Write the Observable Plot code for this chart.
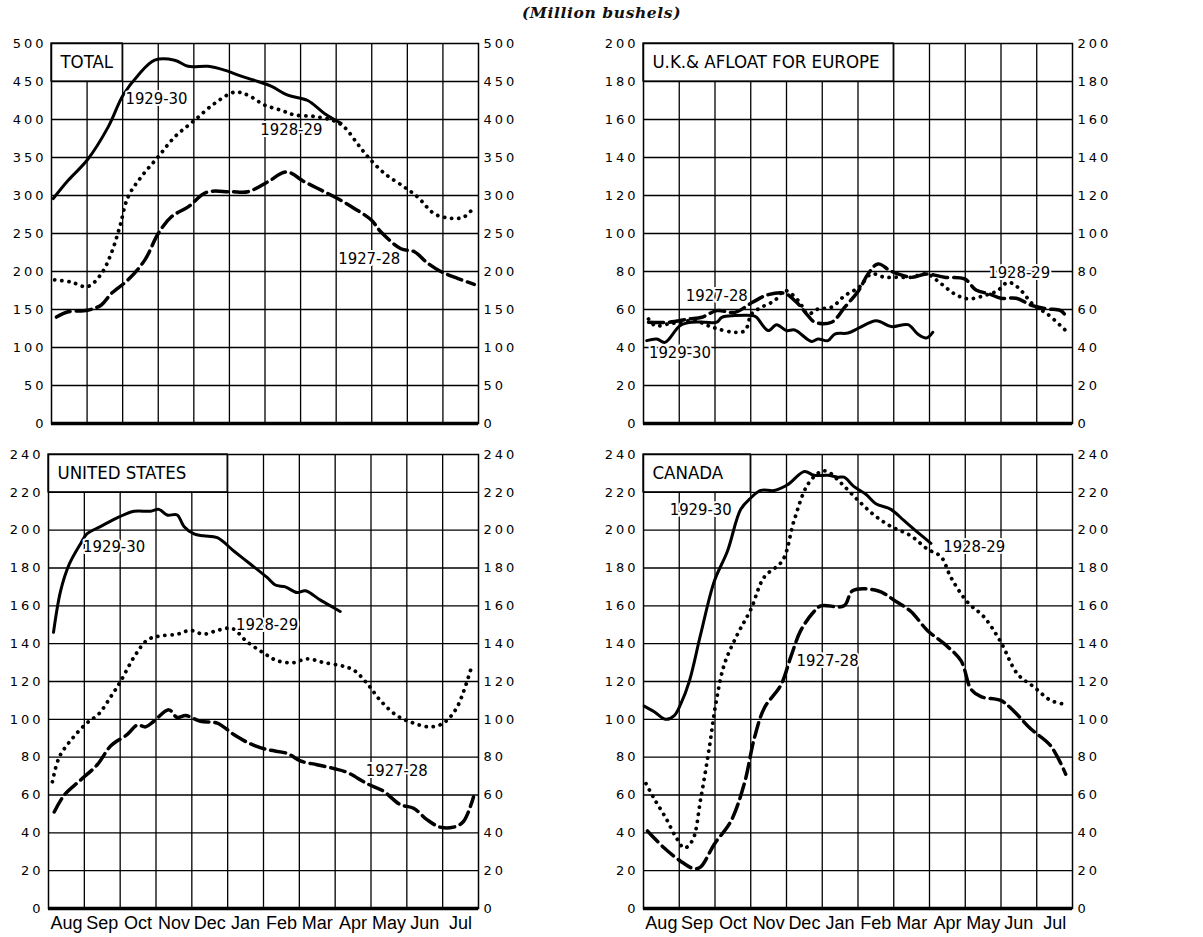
<!DOCTYPE html>
<html>
<head>
<meta charset="utf-8">
<script src="https://cdn.jsdelivr.net/npm/d3@7"></script>
<script src="https://cdn.jsdelivr.net/npm/@observablehq/plot@0.6"></script>
<style>
  body { margin: 0; background: #fff; }
  #wrap { position: relative; width: 1203px; height: 937px; background: #fff; overflow: hidden; }
  #title { position: absolute; left: 0; width: 1203px; top: 3px; text-align: center;
           font: italic bold 15.5px "DejaVu Serif", "Liberation Serif", serif; letter-spacing: 0.6px; color: #111; }
  .panel { position: absolute; }
  .panel g[aria-label="y-axis tick label"] text { letter-spacing: 3px; }
</style>
</head>
<body>
<div id="wrap"><div id="title">(Million bushels)</div></div>
<script>
// ---- categories ----
const months = ["Aug","Sep","Oct","Nov","Dec","Jan","Feb","Mar","Apr","May","Jun","Jul"];
const seasons = ["1927-28","1928-29","1929-30"];

// ---- series values: [month position, million bushels] ----
const total1929 = [[0.05,296],[0.47,320],[1.01,347],[1.59,390],[2.01,432],[2.43,458],[2.9,478],[3.46,478],[3.84,470],[4.4,470],[4.86,465],[5.33,457],[5.8,450],[6.17,444],[6.64,432],[7.2,425],[7.67,408],[8.14,395]];
const total1928 = [[0.09,189],[0.56,186],[1.01,180],[1.4,197],[1.68,224],[1.92,259],[2.15,298],[2.53,325],[3.0,351],[3.46,377],[4.02,399],[4.58,421],[5.15,436],[5.52,432],[5.99,419],[6.46,412],[6.83,406],[7.39,404],[7.95,398],[8.23,390],[8.6,368],[8.89,351],[9.36,329],[9.92,311],[10.29,298],[10.76,276],[11.23,270],[11.6,272],[11.88,285]];
const total1927 = [[0.14,140],[0.47,147],[1.01,149],[1.4,156],[1.68,171],[2.15,189],[2.62,215],[3.0,250],[3.37,272],[3.84,285],[4.35,304],[5.03,305],[5.52,305],[6.08,318],[6.6,331],[7.11,318],[7.58,307],[8.04,296],[8.51,283],[8.98,268],[9.26,252],[9.82,230],[10.2,226],[10.57,211],[10.94,200],[11.41,191],[11.88,183]];

const uk1929 = [[0.09,43.6],[0.37,44.5],[0.6,42.7],[1.02,51.5],[1.35,53.3],[1.72,53.3],[2.05,53.3],[2.19,55.9],[2.56,56.8],[3.05,56.8],[3.16,55.9],[3.49,48.9],[3.72,52.0],[4.0,48.9],[4.23,49.2],[4.7,43.2],[4.88,44.5],[5.16,43.6],[5.35,47.1],[5.72,47.6],[6.03,50.3],[6.51,54.1],[6.93,51.0],[7.4,52.0],[7.67,47.1],[7.91,45.0],[8.09,48.0]];
const uk1928 = [[0.14,55],[0.33,51.5],[0.7,52.4],[1.02,53.3],[1.44,54.1],[1.81,51.5],[2.09,49.7],[2.56,48.0],[2.84,48.9],[3.02,57.6],[3.3,61.2],[3.67,64.7],[3.95,70],[4.33,64.7],[4.6,57.6],[4.88,60.3],[5.26,61.2],[5.63,67.3],[6.03,71.7],[6.37,78.7],[6.74,77],[7.12,77],[7.49,77],[7.91,78.7],[8.33,73.5],[8.7,68.2],[9.07,65.6],[9.53,67.3],[9.91,70],[10.19,74.3],[10.47,71.7],[10.93,62],[11.3,57.6],[11.81,48.9]];
const uk1927 = [[0.14,53.3],[0.7,53.3],[1.26,55],[1.63,55.9],[2.05,59.4],[2.56,58.5],[3.05,63.8],[3.49,67.8],[3.95,68.5],[4.28,63.8],[4.6,56.8],[4.79,53.3],[5.26,53.3],[5.63,61.2],[6.03,70.3],[6.28,78.7],[6.56,84],[6.93,80.1],[7.49,77],[7.91,78.7],[8.42,77],[8.98,76.1],[9.3,70.3],[9.67,68.2],[10.0,65.9],[10.42,65.9],[10.88,62],[11.3,60.3],[11.67,59.4],[11.86,55.5]];

const us1929 = [[0.14,146],[0.34,168],[0.58,182],[0.9,193],[1.07,198],[1.46,202],[1.97,207],[2.39,210],[2.85,210],[3.08,211],[3.31,208],[3.59,208],[3.78,202],[4.06,198],[4.33,197],[4.71,196],[5.17,189],[5.64,182],[6.1,175],[6.33,171],[6.61,170],[6.94,167],[7.17,168],[7.59,163],[7.96,159],[8.14,157]];
const us1928 = [[0.11,67],[0.3,80],[0.67,90],[1.07,98],[1.41,103],[1.74,112],[2.01,120],[2.39,133],[2.76,142],[3.08,144],[3.59,145],[3.96,147],[4.33,145],[4.71,147],[5.13,148],[5.54,141],[6.01,135],[6.38,131],[6.84,130],[7.21,132],[7.68,130],[8.24,128],[8.52,126],[8.89,119],[9.26,110],[9.72,102],[10.19,98],[10.65,96],[11.02,98],[11.39,106],[11.81,128]];
const us1927 = [[0.16,51],[0.44,60],[0.9,68],[1.36,76],[1.74,86],[2.2,92],[2.48,97],[2.71,96],[2.94,99],[3.36,105],[3.59,101],[3.83,102],[4.24,99],[4.71,98],[5.17,92],[5.64,87],[6.1,84],[6.66,82],[7.03,78],[7.49,76],[7.96,74],[8.33,72],[8.89,66],[9.35,62],[9.81,55],[10.19,53],[10.56,47],[10.93,43],[11.3,43],[11.58,46],[11.86,59]];

const can1929 = [[0.02,107],[0.3,104],[0.62,100],[0.86,102],[1.04,108],[1.28,120],[1.6,145],[1.98,173],[2.35,189],[2.72,211],[3.0,217],[3.28,221],[3.66,221],[4.03,224],[4.5,231],[4.77,229],[5.15,229],[5.43,228],[5.61,228],[5.89,223],[6.22,219],[6.5,214],[6.92,211],[7.29,205],[7.66,199],[8.04,193]];
const can1928 = [[0.07,66],[0.3,58],[0.62,48],[0.9,38],[1.14,32],[1.37,36],[1.6,58],[1.84,85],[2.02,108],[2.26,129],[2.63,145],[3.0,158],[3.37,175],[3.89,184],[4.21,205],[4.59,224],[4.96,231],[5.15,231],[5.52,225],[5.99,216],[6.45,208],[6.92,202],[7.48,197],[7.94,190],[8.32,186],[8.6,175],[9.06,162],[9.53,154],[9.99,141],[10.46,124],[10.93,117],[11.39,110],[11.77,108]];
const can1927 = [[0.11,41],[0.58,32],[1.04,25],[1.42,21],[1.6,22],[1.98,34],[2.44,46],[2.82,66],[3.1,90],[3.38,106],[3.84,118],[4.12,133],[4.4,147],[4.77,157],[4.96,160],[5.61,160],[5.85,168],[6.55,168],[7.01,163],[7.48,157],[7.94,147],[8.41,140],[8.88,131],[9.16,116],[9.44,112],[9.99,110],[10.27,106],[10.83,95],[11.39,86],[11.81,71]];

// ---- tick labels ----
const totalTicks = [0,50,100,150,200,250,300,350,400,450,500];
const ukTicks = [0,20,40,60,80,100,120,140,160,180,200];
const countryTicks = [0,20,40,60,80,100,120,140,160,180,200,220,240];

// ---- panel titles and series-label anchors (month position, value) ----
const panelTitles = ["TOTAL", "U.K.& AFLOAT FOR EUROPE", "UNITED STATES", "CANADA"];
const totalLabels = [["1929-30",2.95,428],["1928-29",6.74,386],["1927-28",8.93,217]];
const ukLabels = [["1927-28",2.05,67.5],["1928-29",10.51,79.6],["1929-30",1.02,37.4]];
const usLabels = [["1929-30",1.83,191],["1928-29",6.1,150],["1927-28",9.72,73]];
const canLabels = [["1929-30",1.6,211],["1928-29",9.25,191],["1927-28",5.15,131]];

const condensed = '"DejaVu Sans Condensed", "Liberation Sans Narrow", "DejaVu Sans", sans-serif';
const narrow = '"Liberation Sans Narrow", "Liberation Sans", Arial, sans-serif';
const styles = {
  "1929-30": {strokeWidth: 3},
  "1928-29": {strokeWidth: 3.8, strokeDasharray: "0.1 7", strokeLinecap: "round"},
  "1927-28": {strokeWidth: 3.5, strokeDasharray: "15 6"}
};

function rows(arr) { return arr.map(([x, y]) => ({x, y})); }

function panel(cfg) {
  const {series, labels, ticks, title, boxCols, left, top, width, height, mL, mR, mT, mB, months: showMonths} = cfg;
  const yMax = ticks[ticks.length - 1];
  const step = ticks[1] - ticks[0];
  const tickFont = '"DejaVu Sans", sans-serif';
  const marks = [
    Plot.ruleY(ticks.filter(t => t > 0 && t < yMax), {stroke: "#000", strokeWidth: 1.3}),
    Plot.ruleX(d3.range(1, 12), {stroke: "#000", strokeWidth: 1.3}),
    Plot.rect([title], {x1: 0, x2: boxCols, y1: yMax - step, y2: yMax, fill: "white", stroke: "#000", strokeWidth: 1.3}),
    Plot.text([title], {x: 0.25, y: yMax - step / 2, text: d => d, textAnchor: "start", fontSize: 18.5, fontFamily: condensed, fill: "#000"}),
    Plot.frame({stroke: "#000", strokeWidth: 1.5}),
    Plot.ruleY([0], {stroke: "#000", strokeWidth: 3.5}),
  ];
  for (const [name, data] of series) {
    marks.push(Plot.line(rows(data), {x: "x", y: "y", stroke: "#000", curve: "catmull-rom", ...styles[name]}));
  }
  marks.push(Plot.text(labels, {x: d => d[1], y: d => d[2], text: d => d[0], fontSize: 16.5, fontFamily: condensed,
    fill: "#000", stroke: "white", strokeWidth: 4, paintOrder: "stroke"}));
  marks.push(Plot.axisY(ticks, {anchor: "left", label: null, tickSize: 0, tickPadding: 5, fontSize: 13, fontFamily: tickFont}));
  marks.push(Plot.axisY(ticks, {anchor: "right", label: null, tickSize: 0, tickPadding: 5, fontSize: 13, fontFamily: tickFont}));
  if (showMonths) {
    marks.push(Plot.axisX(d3.range(12).map(i => i + 0.5), {anchor: "bottom", label: null, tickSize: 0, tickPadding: 8,
      tickFormat: d => months[Math.floor(d)], fontSize: 18, fontFamily: narrow}));
  }
  const svg = Plot.plot({
    width, height, marginLeft: mL, marginRight: mR, marginTop: mT, marginBottom: mB,
    x: {domain: [0, 12], axis: null, label: null},
    y: {domain: [0, yMax], axis: null, label: null},
    style: {background: "transparent", color: "#000"},
    marks
  });
  const div = document.createElement("div");
  div.className = "panel";
  div.style.left = left + "px";
  div.style.top = top + "px";
  div.appendChild(svg);
  document.getElementById("wrap").appendChild(div);
}

panel({series: [["1929-30", total1929], ["1928-29", total1928], ["1927-28", total1927]], labels: totalLabels,
  ticks: totalTicks, title: panelTitles[0], boxCols: 2,
  left: 0, top: 30, width: 600, height: 400, mL: 51, mR: 122, mT: 13, mB: 7, months: false});
panel({series: [["1929-30", uk1929], ["1928-29", uk1928], ["1927-28", uk1927]], labels: ukLabels,
  ticks: ukTicks, title: panelTitles[1], boxCols: 7,
  left: 600, top: 30, width: 603, height: 400, mL: 43, mR: 131, mT: 13, mB: 7, months: false});
panel({series: [["1929-30", us1929], ["1928-29", us1928], ["1927-28", us1927]], labels: usLabels,
  ticks: countryTicks, title: panelTitles[2], boxCols: 5,
  left: 0, top: 440, width: 600, height: 497, mL: 48, mR: 122, mT: 14, mB: 29, months: true});
panel({series: [["1929-30", can1929], ["1928-29", can1928], ["1927-28", can1927]], labels: canLabels,
  ticks: countryTicks, title: panelTitles[3], boxCols: 3,
  left: 600, top: 440, width: 603, height: 497, mL: 43, mR: 131, mT: 14, mB: 29, months: true});
</script>
</body>
</html>
